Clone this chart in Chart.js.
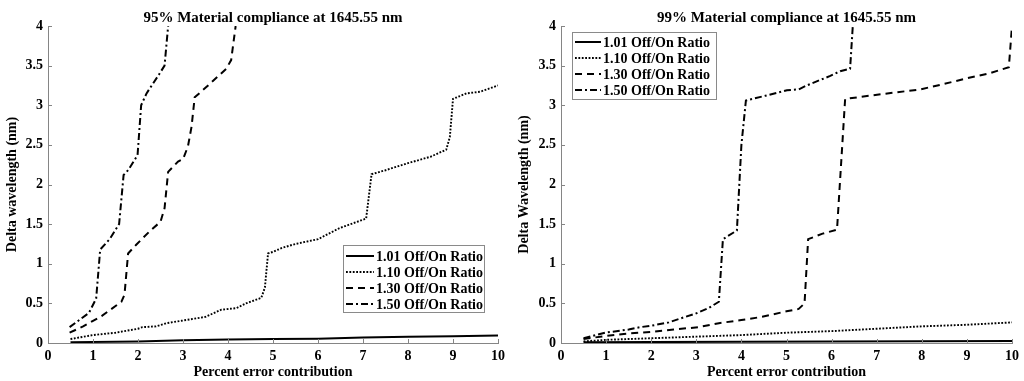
<!DOCTYPE html>
<html><head><meta charset="utf-8">
<script src="https://cdn.jsdelivr.net/npm/chart.js@4/dist/chart.umd.min.js"></script>
<style>
html,body{margin:0;padding:0;background:#fff;}
#wrap{position:relative;width:1024px;height:381px;overflow:hidden;}
canvas{position:absolute;top:0;}
</style>
</head><body>
<div id="wrap">
<canvas id="c1" width="512" height="381" style="left:0"></canvas>
<canvas id="c2" width="512" height="381" style="left:512px"></canvas>
</div>
<script>
// ---------- DATA ----------
const seriesLabels = ['1.01 Off/On Ratio', '1.10 Off/On Ratio', '1.30 Off/On Ratio', '1.50 Off/On Ratio'];
const xTicks = [0,1,2,3,4,5,6,7,8,9,10];
const yTicks = [0,0.5,1,1.5,2,2.5,3,3.5,4];

// Left chart: 95% compliance
const L101x = [0.5, 2, 3, 4, 5, 6, 7, 8, 9, 10];
const L101y = [0.01, 0.02, 0.035, 0.045, 0.05, 0.055, 0.07, 0.08, 0.085, 0.095];
const L110x = [0.5, 1.0, 1.5, 2.0, 2.1, 2.4, 2.63, 2.96, 3.5, 3.85, 4.19, 4.4, 4.74, 4.82, 4.89, 5.0, 5.2, 5.5, 6.0, 6.48, 7.07, 7.19, 7.5, 8.0, 8.5, 8.85, 8.93, 9.0, 9.3, 9.6, 10.0];
const L110y = [0.05, 0.1, 0.13, 0.18, 0.2, 0.21, 0.25, 0.28, 0.33, 0.42, 0.44, 0.5, 0.57, 0.7, 1.13, 1.15, 1.2, 1.25, 1.31, 1.45, 1.57, 2.13, 2.18, 2.27, 2.35, 2.44, 2.6, 3.08, 3.15, 3.17, 3.25];
const L130x = [0.48, 0.78, 1.0, 1.19, 1.63, 1.7, 1.78, 1.96, 2.26, 2.5, 2.59, 2.67, 2.89, 3.0, 3.11, 3.19, 3.26, 3.48, 3.96, 4.07, 4.17];
const L130y = [0.13, 0.21, 0.28, 0.34, 0.52, 0.61, 1.13, 1.24, 1.41, 1.53, 1.7, 2.16, 2.29, 2.32, 2.48, 2.73, 3.1, 3.21, 3.46, 3.57, 4.0];
const L150x = [0.48, 0.91, 1.07, 1.16, 1.37, 1.58, 1.68, 1.78, 1.99, 2.07, 2.19, 2.48, 2.59, 2.67];
const L150y = [0.2, 0.38, 0.56, 1.18, 1.31, 1.5, 2.12, 2.18, 2.37, 3.0, 3.15, 3.4, 3.5, 4.0];

// Right chart: 99% compliance
const R101x = [0.5, 2, 4, 6, 8, 10];
const R101y = [0.01, 0.012, 0.015, 0.018, 0.022, 0.025];
const R110x = [0.5, 1, 2, 3, 4, 5, 6, 7, 8, 9, 10];
const R110y = [0.02, 0.04, 0.06, 0.08, 0.1, 0.13, 0.15, 0.18, 0.21, 0.23, 0.26];
const R130x = [0.5, 1.0, 1.5, 2.02, 2.5, 3.05, 3.5, 4.0, 4.46, 5.0, 5.27, 5.4, 5.48, 5.8, 6.12, 6.3, 6.97, 7.97, 8.5, 9.0, 9.48, 9.93, 10.0];
const R130y = [0.05, 0.09, 0.12, 0.14, 0.17, 0.2, 0.25, 0.29, 0.33, 0.4, 0.43, 0.5, 1.31, 1.38, 1.43, 3.08, 3.13, 3.2, 3.27, 3.34, 3.4, 3.48, 4.0];
const R150x = [0.5, 0.98, 1.5, 1.76, 2.02, 2.39, 2.65, 2.98, 3.27, 3.5, 3.59, 3.9, 4.0, 4.1, 4.53, 5.01, 5.27, 5.45, 5.75, 5.97, 6.19, 6.41, 6.47];
const R150y = [0.06, 0.13, 0.17, 0.2, 0.22, 0.26, 0.31, 0.37, 0.44, 0.52, 1.31, 1.42, 2.5, 3.06, 3.12, 3.19, 3.2, 3.25, 3.32, 3.37, 3.43, 3.46, 4.0];

// ---------- STYLE ----------
const FONT = '"Liberation Serif", "Times New Roman", serif';
const AXIS = '#858585';
const styles = [
  {borderDash: [], borderWidth: 2},
  {borderDash: [1.8, 1.6], borderWidth: 1.9},
  {borderDash: [7, 5], borderWidth: 2},
  {borderDash: [7, 3, 2, 3], borderWidth: 2}
];
const toPts = (xs, ys) => xs.map((x, i) => ({x: x, y: ys[i]}));

const inwardTicks = {
  id: 'inwardTicks',
  afterDraw(chart) {
    const ctx = chart.ctx, a = chart.chartArea, sx = chart.scales.x, sy = chart.scales.y;
    ctx.save();
    ctx.strokeStyle = AXIS; ctx.lineWidth = 1;
    ctx.beginPath();
    sx.ticks.forEach(t => { const p = Math.round(sx.getPixelForValue(t.value)) + 0.5; ctx.moveTo(p, a.bottom); ctx.lineTo(p, a.bottom - 4); });
    sy.ticks.forEach(t => { const p = Math.round(sy.getPixelForValue(t.value)) + 0.5; ctx.moveTo(a.left, p); ctx.lineTo(a.left + 4, p); });
    ctx.stroke();
    ctx.restore();
  }
};

const titleAndLegend = {
  id: 'titleAndLegend',
  afterDraw(chart, args, opts) {
    const ctx = chart.ctx, a = chart.chartArea;
    ctx.save();
    ctx.fillStyle = '#000';
    ctx.font = 'bold 15px ' + FONT;
    ctx.textAlign = 'center'; ctx.textBaseline = 'middle';
    ctx.fillText(opts.title, (a.left + a.right) / 2, 18);
    ctx.font = 'bold 14px ' + FONT;
    const L = opts.legend;
    ctx.fillStyle = '#fff';
    ctx.fillRect(L.x, L.y, L.w, L.h);
    ctx.strokeStyle = '#8a8a8a'; ctx.lineWidth = 1;
    ctx.strokeRect(L.x + 0.5, L.y + 0.5, L.w, L.h);
    ctx.textAlign = 'left';
    chart.data.datasets.forEach((ds, i) => {
      const yy = L.rows[i];
      ctx.save();
      ctx.strokeStyle = '#000';
      ctx.lineWidth = ds.borderWidth;
      ctx.setLineDash(ds.borderDash);
      ctx.beginPath(); ctx.moveTo(L.lx0, yy); ctx.lineTo(L.lx1, yy); ctx.stroke();
      ctx.restore();
      ctx.fillStyle = '#000';
      ctx.fillText(ds.label, L.tx, yy + 1);
    });
    ctx.restore();
  }
};

function makeChart(id, dataPairs, title, yTitle, legend, padRight) {
  const datasets = dataPairs.map((p, i) => ({
    label: seriesLabels[i],
    data: toPts(p[0], p[1]),
    borderColor: '#000',
    borderWidth: styles[i].borderWidth,
    borderDash: styles[i].borderDash,
    pointRadius: 0,
    fill: false,
    tension: 0
  }));
  return new Chart(document.getElementById(id), {
    type: 'line',
    data: {datasets: datasets},
    plugins: [inwardTicks, titleAndLegend],
    options: {
      responsive: false,
      animation: false,
      devicePixelRatio: 1,
      layout: {padding: {top: 26, right: padRight, left: 0, bottom: 0}},
      plugins: {
        legend: {display: false},
        title: {display: false},
        tooltip: {enabled: false},
        titleAndLegend: {title: title, legend: legend}
      },
      scales: {
        x: {
          type: 'linear', min: 0, max: 10,
          afterBuildTicks: s => { s.ticks = xTicks.map(v => ({value: v})); },
          afterFit: s => { s.height = 38; },
          grid: {display: false, drawTicks: false},
          border: {display: true, color: AXIS, width: 1},
          ticks: {color: '#000', padding: 5, font: {family: FONT, size: 14, weight: 'bold'}, maxRotation: 0, autoSkip: false, callback: v => String(v)},
          title: {display: true, text: 'Percent error contribution', color: '#000', padding: {top: 0, bottom: 0}, font: {family: FONT, size: 14, weight: 'bold'}}
        },
        y: {
          type: 'linear', min: 0, max: 4,
          afterBuildTicks: s => { s.ticks = yTicks.map(v => ({value: v})); },
          afterFit: s => { s.width = legend.axisW; },
          grid: {display: false, drawTicks: false},
          border: {display: true, color: AXIS, width: 1},
          ticks: {color: '#000', padding: 5, font: {family: FONT, size: 14, weight: 'bold'}, autoSkip: false, callback: v => String(v)},
          title: {display: true, text: yTitle, color: '#000', padding: {top: 4, bottom: 0}, font: {family: FONT, size: 14, weight: 'bold'}}
        }
      }
    }
  });
}

makeChart('c1',
  [[L101x, L101y], [L110x, L110y], [L130x, L130y], [L150x, L150y]],
  '95% Material compliance at 1645.55 nm', 'Delta wavelength (nm)',
  {axisW: 48, x: 343, y: 245, w: 141, h: 67, rows: [256, 272, 288, 304], lx0: 346, lx1: 374, tx: 376},
  14);
makeChart('c2',
  [[R101x, R101y], [R110x, R110y], [R130x, R130y], [R150x, R150y]],
  '99% Material compliance at 1645.55 nm', 'Delta Wavelength (nm)',
  {axisW: 49, x: 60, y: 32, w: 144, h: 67, rows: [42, 58, 74, 90], lx0: 63, lx1: 89, tx: 91},
  12);
</script>
</body></html>
